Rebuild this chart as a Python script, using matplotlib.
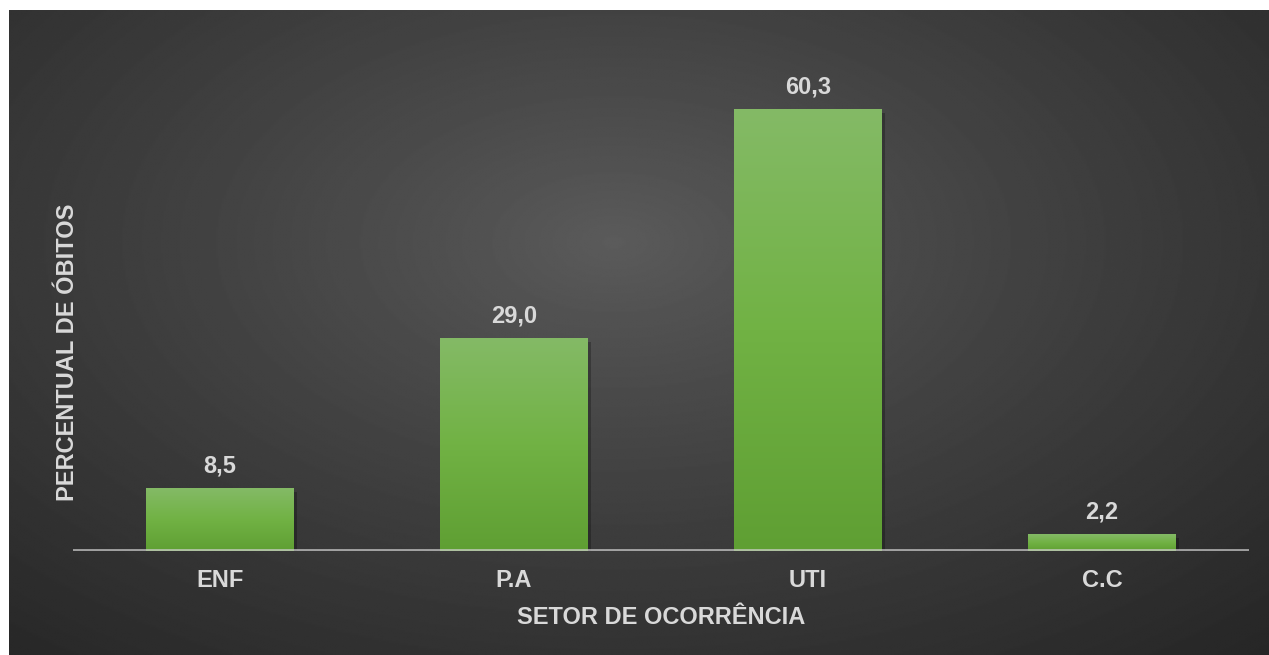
import numpy as np
import matplotlib
matplotlib.use("Agg")
from matplotlib import pyplot as plt
from matplotlib import patheffects as pe
from matplotlib.colors import LinearSegmentedColormap

setores = ["ENF", "P.A", "UTI", "C.C"]
percentual = [8.5, 29.0, 60.3, 2.2]
rotulos = ["8,5", "29,0", "60,3", "2,2"]

plt.rcParams['font.family'] = ['Liberation Sans', 'DejaVu Sans']
txt = '#d9d9d9'

W, H = 1269, 655
fig = plt.figure(figsize=(W / 100, H / 100), dpi=100)
fig.patch.set_facecolor('white')

# dark radial background panel
bg = fig.add_axes([9 / W, 0, 1 - 9 / W, (H - 10) / H])
bg.set_axis_off()
yy, xx = np.mgrid[0:1:400j, 0:1:800j]
r = np.sqrt(((xx - 0.48) / 0.8) ** 2 + ((yy - 0.36) / 0.9) ** 2)
r = np.clip(r / r.max(), 0, 1)
grey = 0.36 - (0.36 - 0.15) * r ** 0.85
bg.imshow(grey, cmap='gray', vmin=0, vmax=1, aspect='auto',
          extent=[0, 1, 1, 0], interpolation='bilinear')
bg.set_xlim(0, 1)
bg.set_ylim(1, 0)

ax = fig.add_axes([73 / W, (H - 551) / H, (1249 - 73) / W, (551 - 39) / H])
ax.set_facecolor('none')

green = LinearSegmentedColormap.from_list('g', ['#5f9f33', '#71b244', '#84ba66'])
grad = np.linspace(0, 1, 256).reshape(-1, 1)

x = np.arange(len(setores))
bars = ax.bar(x, percentual, width=0.503, facecolor='none', edgecolor='none', zorder=2)
for b, lab in zip(bars, rotulos):
    b.set_path_effects([pe.SimplePatchShadow(offset=(2, -2), shadow_rgbFace='black', alpha=0.25)])
    x0, w, h = b.get_x(), b.get_width(), b.get_height()
    ax.imshow(grad, cmap=green, aspect='auto', origin='lower',
              extent=[x0, x0 + w, 0, h], zorder=3)
    ax.annotate(lab, (x0 + w / 2, h), xytext=(0, 8), textcoords='offset points',
                ha='center', va='bottom', fontsize=17, fontweight='bold', color=txt)

ax.axhline(0, color='#d0d0d0', alpha=0.7, lw=2.8, zorder=4)
ax.set_xlim(-0.5, 3.5)
ax.set_ylim(0, 70)

for s in ax.spines.values():
    s.set_visible(False)
ax.set_yticks([])
ax.set_xticks(x)
ax.set_xticklabels(setores, fontsize=17, fontweight='bold', color=txt)
ax.tick_params(axis='x', length=0, pad=13)
ax.set_xlabel('SETOR DE OCORRÊNCIA', fontsize=17, fontweight='bold', color=txt, labelpad=10)
ax.set_ylabel('PERCENTUAL DE ÓBITOS', fontsize=17, fontweight='bold', color=txt)
ax.yaxis.set_label_coords(0.005, 0.389)

fig.savefig('out.png', dpi=100)
